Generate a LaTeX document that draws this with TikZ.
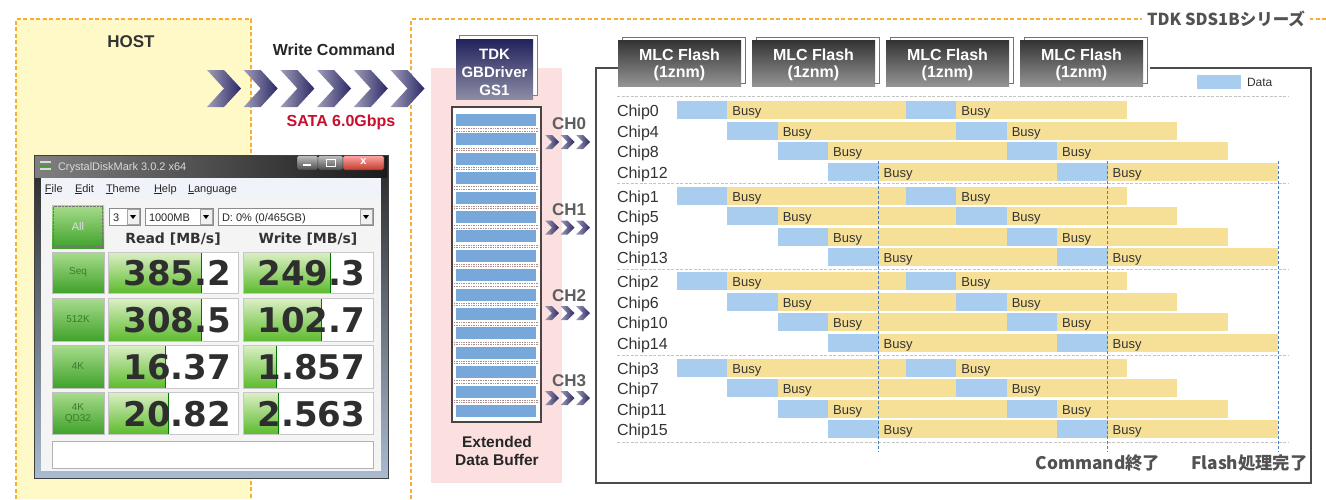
\documentclass[tikz,border=0pt]{standalone}
\usepackage{fontspec}
\setmainfont{Liberation Sans}
\newfontfamily\dejavu{DejaVu Sans}
\newfontfamily\jp{Noto Sans CJK JP}
\definecolor{hostyellow}{HTML}{FFF9C8}
\definecolor{dashorange}{HTML}{F6AE35}
\definecolor{bufpink}{HTML}{FCE0E0}
\definecolor{datablue}{HTML}{A9CDEE}
\definecolor{busyyellow}{HTML}{F6E097}
\definecolor{barblue}{HTML}{78A7DA}
\definecolor{navytop}{HTML}{22225C}
\definecolor{navybot}{HTML}{8C8CA6}
\definecolor{satared}{HTML}{C8102E}
\definecolor{chgray}{HTML}{5E5E5E}
\definecolor{sepgray}{HTML}{C4C4C4}
\definecolor{vline}{HTML}{4A7CC0}
\definecolor{chevL}{HTML}{A09EB8}
\definecolor{chevR}{HTML}{2B2966}
\definecolor{winframe}{HTML}{A9BBD1}
\definecolor{menubg}{HTML}{F0F3F9}
\definecolor{clientbg}{HTML}{F4F4F4}
\definecolor{btnlight}{HTML}{A8DC8C}
\definecolor{btndark}{HTML}{3FA22A}
\definecolor{barlight}{HTML}{DDF0C6}
\definecolor{bardark}{HTML}{5DBB2E}
\definecolor{btntext}{HTML}{3C7A2E}
\definecolor{closered}{HTML}{C23B2C}
\definecolor{bufdot}{HTML}{A88E8E}
\definecolor{bufframe}{HTML}{4A4444}
\newcommand\chevron[4]{%
  \shade[left color=chevL, right color=chevR] (#1,#2) -- ++(#3/2,0) -- ++(#3/2,#4/2) -- ++(-#3/2,#4/2) -- ++(-#3/2,0) -- ++(#3/2,-#4/2) -- cycle;}
\begin{document}
\begin{tikzpicture}[x=1pt,y=-1pt,
  every node/.style={inner sep=0pt, outer sep=0pt},
  orangedash/.style={draw=dashorange, line width=1.3pt, dash pattern=on 4pt off 2.5pt},
  chiplbl/.style={anchor=base west, font=\fontsize{16}{18}\selectfont, text=black!80},
  busylbl/.style={anchor=base west, font=\fontsize{13}{15}\selectfont, text=black!80},
  chlbl/.style={anchor=base, font=\bfseries\fontsize{17}{19}\selectfont, text=chgray},
  whitebold/.style={anchor=base, text=white, font=\bfseries\fontsize{15}{17}\selectfont},
  cdmval/.style={anchor=east, font=\dejavu\bfseries\fontsize{34}{36}\selectfont, text=black!82},
  cdmbtnlbl/.style={font=\fontsize{10}{11}\selectfont, text=btntext, align=center},
  cdmsmall/.style={anchor=base west, font=\fontsize{11}{12}\selectfont, text=black!85},
  sepline/.style={draw=sepgray, line width=1pt, dash pattern=on 3pt off 1.5pt},
  vdash/.style={draw=vline, line width=1pt, dash pattern=on 3pt off 2pt},
  combo/.style={draw=black!45, fill=white},
  combobtn/.style={draw=black!35, fill=black!6}]
\useasboundingbox (0,0) rectangle (1326,499);
\fill[white] (0,0) rectangle (1326,499);

% ---------------- HOST area
\fill[hostyellow] (16,19) rectangle (251,499);
\draw[orangedash] (16,499) -- (16,19) -- (251,19) -- (251,499);
\node[anchor=base, font=\bfseries\fontsize{17}{19}\selectfont, text=black!80] (host) at (131,47) {HOST};

% ---------------- SSD area frame
\draw[orangedash] (411,499) -- (411,19) -- (1326,19);
\node[anchor=base, fill=white, inner xsep=5pt, inner ysep=2pt, font=\jp\bfseries\fontsize{16.5}{19}\selectfont, text=black!68] (series) at (1226,25) {TDK SDS1Bシリーズ};

% ---------------- Write command arrows
\node[anchor=base, font=\bfseries\fontsize{16}{18}\selectfont, text=black!85] (writecmd) at (334,55) {Write Command};
\foreach \i in {0,...,5}{\chevron{207+\i*36.7}{70}{34}{37}}
\node[anchor=base, font=\bfseries\fontsize{16}{18}\selectfont, text=satared] (sata) at (341,126.5) {SATA 6.0Gbps};

% ---------------- CrystalDiskMark window
\shade[top color=black!85, bottom color=winframe] (34,155) rectangle (388,478);
\shade[left color=black!50, right color=black!90] (35,156) rectangle (387,177);
\draw[black!75, line width=0.8pt] (34,155) rectangle (388,478);
\fill[black!15] (40,161) rectangle (51,163);
\fill[btndark] (40,164.5) rectangle (51,166.5);
\fill[black!15] (40,168) rectangle (51,170);
\node[anchor=base west, text=black!15, font=\fontsize{11}{12}\selectfont] (cdmtitle) at (58,170) {CrystalDiskMark 3.0.2 x64};
\shade[top color=black!25, bottom color=black!70, draw=black!85, rounded corners=1.5pt] (297,155.5) rectangle (318,170);
\shade[top color=black!25, bottom color=black!70, draw=black!85, rounded corners=1.5pt] (318,155.5) rectangle (343,170);
\shade[top color=red!35!white, bottom color=closered, draw=black!85, rounded corners=1.5pt] (343,155.5) rectangle (384,170);
\fill[white] (303,164) rectangle (311,166);
\draw[white, line width=1pt] (326,159.5) rectangle (335,166);
\node[font=\bfseries\fontsize{11}{12}\selectfont, text=white] (closex) at (363.5,162) {x};
% menu
\fill[menubg] (41,178) rectangle (381,198);
\node[cdmsmall] (mfile) at (45,192) {\underline{F}ile};
\node[cdmsmall] (medit) at (75,192) {\underline{E}dit};
\node[cdmsmall] (mtheme) at (106,192) {\underline{T}heme};
\node[cdmsmall] (mhelp) at (154,192) {\underline{H}elp};
\node[cdmsmall] (mlang) at (188,192) {\underline{L}anguage};
% client
\fill[clientbg] (41,198) rectangle (381,471);
\shade[top color=btnlight, bottom color=btndark] (52,205) rectangle (104,248);
\draw[black!55, densely dotted] (53.5,206.5) rectangle (102.5,246.5);
\node[font=\fontsize{11}{12}\selectfont, text=black!12] (allbtn) at (78,226.5) {All};
\draw[combo] (109,208) rectangle (140,225);
\node[cdmsmall] (cnt) at (113,221) {3};
\draw[combobtn] (127,209.5) rectangle (139,224);
\fill[black] (130,215) -- (136,215) -- (133,219) -- cycle;
\draw[combo] (145,208) rectangle (213,225);
\node[cdmsmall] (size) at (149,221) {1000MB};
\draw[combobtn] (200,209.5) rectangle (212,224);
\fill[black] (203,215) -- (209,215) -- (206,219) -- cycle;
\draw[combo] (218,208) rectangle (373,225);
\node[cdmsmall] (drive) at (222,221) {D: 0\% (0/465GB)};
\draw[combobtn] (360,209.5) rectangle (372,224);
\fill[black] (363,215) -- (369,215) -- (366,219) -- cycle;
\node[anchor=base, font=\dejavu\bfseries\fontsize{14}{16}\selectfont, text=black!80] (readhd) at (173,243) {Read [MB/s]};
\node[anchor=base, font=\dejavu\bfseries\fontsize{14}{16}\selectfont, text=black!80] (writehd) at (308,243) {Write [MB/s]};
\foreach \ya/\yb/\lab/\rv/\rf/\wv/\wf/\n in {252/293/Seq/385.2/201/249.3/330/1,298/341/512K/308.5/201/102.7/321/2,345/388/4K/16.37/165/1.857/276/3,392/434/{4K\\QD32}/20.82/168/2.563/278/4}{
  \pgfmathsetmacro\ym{(\ya+\yb)/2}
  \shade[top color=btnlight, bottom color=btndark] (52,\ya) rectangle (104,\yb);
  \draw[black!25] (52,\ya) rectangle (104,\yb);
  \node[cdmbtnlbl] (btn\n) at (78,\ym) {\lab};
  \fill[white] (108,\ya) rectangle (238,\yb);
  \shade[top color=barlight, bottom color=bardark] (108,\ya) rectangle (\rf,\yb);
  \draw[green!45!black, line width=0.8pt] (\rf,\ya) -- (\rf,\yb);
  \draw[black!22] (108,\ya) rectangle (238,\yb);
  \fill[white] (243,\ya) rectangle (373,\yb);
  \shade[top color=barlight, bottom color=bardark] (243,\ya) rectangle (\wf,\yb);
  \draw[green!45!black, line width=0.8pt] (\wf,\ya) -- (\wf,\yb);
  \draw[black!22] (243,\ya) rectangle (373,\yb);
  \node[cdmval] (rd\n) at (231,\ym+1) {\rv};
  \node[cdmval] (wr\n) at (365,\ym+1) {\wv};
}
\draw[fill=white, draw=black!30] (52,441) rectangle (373,468);

% ---------------- Controller and buffer
\fill[bufpink] (431,68) rectangle (562,483);
\draw[black!50, fill=white] (459.5,35.5) rectangle (537.5,95.5);
\shade[top color=navytop, bottom color=navybot] (456,39) rectangle (533,99);
\node[whitebold] (ctrl) at (494.5,59) {TDK};
\node[whitebold] (ctrl2) at (494.5,77) {GBDriver};
\node[whitebold] (ctrl3) at (494.5,95) {GS1};
\draw[draw=bufframe, fill=white, line width=1.1pt] (452,107) rectangle (541,422);
\foreach \i in {0,...,15}{
  \pgfmathsetmacro\y{114+\i*19.4}
  \fill[barblue] (456,\y) rectangle (536,\y+12);
}
\foreach \i in {0,...,14}{
  \pgfmathsetmacro\y{129.7+\i*19.4}
  \draw[bufdot, densely dotted, line width=0.7pt] (454,\y-1.2) -- (539,\y-1.2);
  \draw[bufdot, densely dotted, line width=0.7pt] (454,\y+1.2) -- (539,\y+1.2);
}
\node[anchor=base, font=\bfseries\fontsize{15.5}{17}\selectfont, text=black!85] (buf1) at (497,447.5) {Extended};
\node[anchor=base, font=\bfseries\fontsize{15.5}{17}\selectfont, text=black!85] (buf2) at (497,465.5) {Data Buffer};

% ---------------- channels
\foreach \c/\by/\cy in {0/129/135, 1/215/220.5, 2/301/306, 3/386/391}{
  \node[chlbl] (ch\c) at (569,\by) {CH\c};
  \foreach \j in {0,1,2}{\chevron{545+\j*15.5}{\cy}{14}{14}}
}

% ---------------- chart frame
\draw[black!70, line width=1.5pt] (618,68) -- (596,68) -- (596,483) -- (1311,483) -- (1311,68) -- (1150,68);
\foreach \x/\i in {618/1,752/2,886/3,1020/4}{
  \draw[black!55, fill=white] (\x+4,37) rectangle (\x+127,83);
  \shade[top color=black!80, bottom color=black!42] (\x,40) rectangle (\x+123,86);
  \node[whitebold, font=\bfseries\fontsize{16}{18}\selectfont] (flash\i) at (\x+61.5,60) {MLC Flash};
  \node[whitebold, font=\bfseries\fontsize{16}{18}\selectfont] (flashb\i) at (\x+61.5,77.5) {(1znm)};
}
\fill[datablue] (1197,75) rectangle (1241,89);
\node[anchor=base west, font=\fontsize{12}{14}\selectfont, text=black!80] (legend) at (1247,86.5) {Data};

% ---------------- rows
\foreach \g/\gy in {0/101,1/186.5,2/272,3/358.5}{
  \foreach \k in {0,1,2,3}{
    \pgfmathsetmacro\y{\gy+\k*20.6}
    \pgfmathtruncatemacro\chip{\g+4*\k}
    \pgfmathsetmacro\xa{677+\k*50.4}
    \pgfmathsetmacro\xb{\xa+50.4}
    \pgfmathsetmacro\xc{906+\k*50.4}
    \pgfmathsetmacro\xd{\xc+50.4}
    \pgfmathsetmacro\xe{1127+\k*50.4}
    \fill[datablue] (\xa,\y) rectangle (\xb,\y+18);
    \fill[busyyellow] (\xb,\y) rectangle (\xc,\y+18);
    \fill[datablue] (\xc,\y) rectangle (\xd,\y+18);
    \fill[busyyellow] (\xd,\y) rectangle (\xe,\y+18);
    \node[chiplbl] (chip\chip) at (617,\y+15.5) {Chip\chip};
    \node[busylbl] (busya\chip) at (\xb+5,\y+14.5) {Busy};
    \node[busylbl] (busyb\chip) at (\xd+5,\y+14.5) {Busy};
  }
}
\foreach \y in {96,183.5,269.5,355.5,442}{\draw[sepline] (617,\y) -- (1288,\y);}
\foreach \x in {878,1107.5,1278}{\draw[vdash] (\x,161) -- (\x,452);}
\node[anchor=base, font=\jp\bfseries\fontsize{17.3}{19}\selectfont, text=black!68] (cmdend) at (1098,469) {Command終了};
\node[anchor=base, font=\jp\bfseries\fontsize{17.3}{19}\selectfont, text=black!68] (flashend) at (1249.5,469) {Flash処理完了};
\end{tikzpicture}
\end{document}
